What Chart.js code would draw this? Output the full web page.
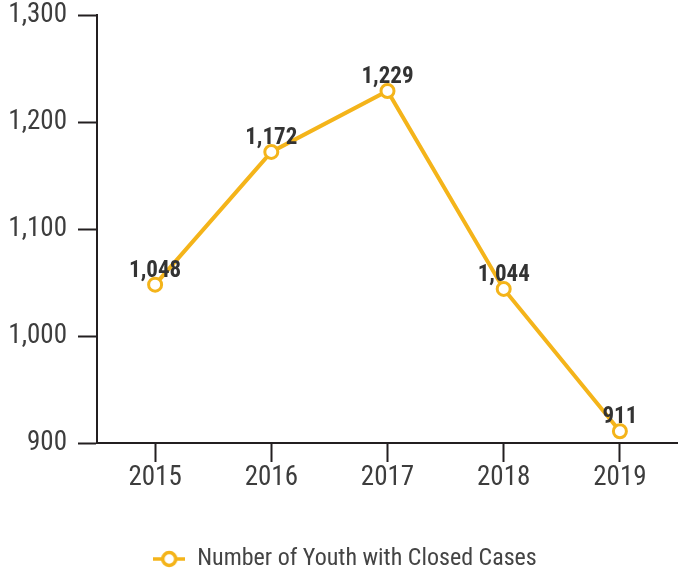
<!DOCTYPE html>
<html lang="en">
<head>
    <meta charset="UTF-8">
    <script src="https://cdn.jsdelivr.net/npm/chart.js"></script>
    <style>
        body { margin: 0; background: #fff; }
        #wrap { width: 678px; height: 575px; }
    </style>
</head>
<body>
    <div id="wrap"><canvas id="myChart"></canvas></div>

    <script>
        var years = ['2015', '2016', '2017', '2018', '2019'];
        var closedCases = [1048, 1172, 1229, 1044, 911];
        var seriesName = 'Number of Youth with Closed Cases';
        var yMin = 900;
        var yMax = 1300;
        var yStep = 100;

        var gold = '#F4B41A';
        var ink = '#231F20';
        var font = "'Roboto Condensed', Roboto, sans-serif";

        // legend marker: short line with an open circle
        var marker = document.createElement('canvas');
        marker.width = 32;
        marker.height = 18;
        var mctx = marker.getContext('2d');
        mctx.strokeStyle = gold;
        mctx.lineWidth = 3.5;
        mctx.beginPath();
        mctx.moveTo(0, 9);
        mctx.lineTo(32, 9);
        mctx.stroke();
        mctx.beginPath();
        mctx.arc(16, 9, 6.5, 0, Math.PI * 2);
        mctx.fillStyle = '#fff';
        mctx.fill();
        mctx.stroke();

        // value labels above each point
        var valueLabels = {
            id: 'valueLabels',
            afterDatasetsDraw(chart) {
                var ctx = chart.ctx;
                var meta = chart.getDatasetMeta(0);
                ctx.save();
                ctx.font = "bold 23px " + font;
                ctx.fillStyle = '#333333';
                ctx.textAlign = 'center';
                ctx.textBaseline = 'alphabetic';
                meta.data.forEach((pt, i) => {
                    ctx.fillText(closedCases[i].toLocaleString('en-US'), pt.x, pt.y - 8);
                });
                ctx.restore();
            }
        };

        // nudge the legend a bit right, like the original
        var legendShift = {
            id: 'legendShift',
            afterLayout(chart) {
                chart.legend.left += 6;
                chart.legend.right += 6;
            }
        };

        const ctx1 = document.getElementById('myChart').getContext('2d');
        new Chart(ctx1, {
            type: 'line',
            data: {
                labels: years,
                datasets: [{
                    label: seriesName,
                    data: closedCases,
                    borderColor: gold,
                    borderWidth: 4,
                    pointRadius: 6.5,
                    pointBorderWidth: 3,
                    pointBackgroundColor: '#fff',
                    pointBorderColor: gold,
                    tension: 0,
                    clip: false,
                }],
            },
            options: {
                responsive: true,
                maintainAspectRatio: false,
                animation: false,
                layout: {
                    autoPadding: false,
                    padding: { top: 15, right: 0, bottom: -6, left: 0 },
                },
                scales: {
                    x: {
                        offset: true,
                        afterFit(scale) {
                            scale.height = 94;
                            scale.paddingLeft = 0;
                            scale.paddingRight = 0;
                        },
                        grid: {
                            drawOnChartArea: false,
                            tickLength: 19,
                            tickWidth: 2,
                            tickColor: ink,
                        },
                        border: { color: ink, width: 2 },
                        ticks: {
                            padding: 0,
                            color: '#3d3d3d',
                            font: { family: font, size: 27 },
                        },
                    },
                    y: {
                        min: yMin,
                        max: yMax,
                        afterFit(scale) {
                            scale.width = 97;
                            scale.paddingTop = 0;
                            scale.paddingBottom = 0;
                        },
                        grid: {
                            drawOnChartArea: false,
                            tickLength: 19,
                            tickWidth: 2,
                            tickColor: ink,
                        },
                        border: { color: ink, width: 2 },
                        ticks: {
                            stepSize: yStep,
                            padding: 11,
                            color: '#3d3d3d',
                            font: { family: font, size: 27 },
                            callback: v => v.toLocaleString('en-US'),
                        },
                    },
                },
                plugins: {
                    legend: {
                        position: 'bottom',
                        labels: {
                            usePointStyle: true,
                            pointStyle: marker,
                            pointStyleWidth: 32,
                            padding: 10,
                            color: '#444444',
                            font: { family: font, size: 24 },
                        },
                    },
                    tooltip: { enabled: false },
                },
            },
            plugins: [valueLabels, legendShift],
        });
    </script>
</body>
</html>
